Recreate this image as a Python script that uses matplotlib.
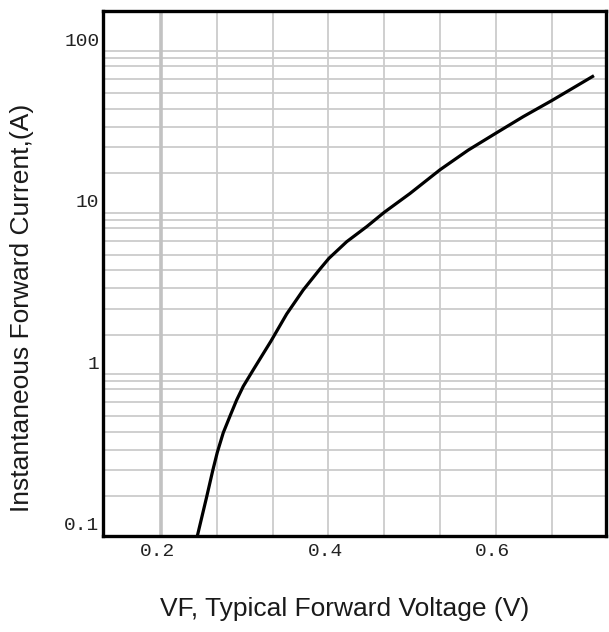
import numpy as np
import matplotlib
matplotlib.use("Agg")
import matplotlib.pyplot as plt
from matplotlib.transforms import ScaledTranslation

# ---- data ----
vf = [0.2434, 0.2546, 0.2618, 0.2673, 0.2744, 0.2824, 0.2904, 0.2983,
      0.3103, 0.3314, 0.3502, 0.3700, 0.3900, 0.4007, 0.4219, 0.4458,
      0.4668, 0.4975, 0.5333, 0.5671, 0.6002, 0.6329, 0.6668, 0.7173]
i_f = [0.100, 0.175, 0.254, 0.330, 0.436, 0.552, 0.695, 0.845,
       1.07, 1.61, 2.37, 3.34, 4.50, 5.24, 6.64, 8.23,
       10.1, 13.2, 18.5, 24.5, 31.2, 39.5, 49.6, 70.8]

x_tick_values = [0.2, 0.4, 0.6]
x_tick_labels = ["0.2", "0.4", "0.6"]
x_grid_values = [0.2, 0.2667, 0.3333, 0.4, 0.4667, 0.5333, 0.6, 0.6667]
y_tick_values = [0.1, 1, 10, 100]
y_tick_labels = ["0.1", "1", "10", "100"]
y_decades = [1, 10, 100]
y_grid_factors = [0.909, 0.8074, 0.6709, 0.5509, 0.4416, 0.3424, 0.2551, 0.1759]

x_label = "VF, Typical Forward Voltage (V)"
y_label = "Instantaneous Forward Current,(A)"

W, H = 609, 632
fig = plt.figure(figsize=(W / 100, H / 100), dpi=100)
ax = fig.add_axes([103 / W, 1 - 536 / H, 503 / W, 525 / H])
ax.set_yscale("log")
ax.set_xlim(0.1307, 0.7317)
ax.set_ylim(0.1, 178)

grid_c = "#cccccc"
for d in y_decades:
    ax.axhline(d, color=grid_c, lw=1.3, zorder=1)
    for f in y_grid_factors:
        ax.axhline(d * f, color=grid_c, lw=1.3, zorder=1)
for xv in x_grid_values:
    if abs(xv - 0.2) < 1e-6:
        ax.axvline(xv, color="#c2c2c2", lw=2.6, zorder=1)
    else:
        ax.axvline(xv, color=grid_c, lw=1.3, zorder=1)

ax.plot(vf, i_f, color="black", lw=2.3, zorder=3, solid_capstyle="butt",
        solid_joinstyle="round")

for s in ax.spines.values():
    s.set_linewidth(2.4)
    s.set_color("black")
    s.set_zorder(4)

ax.set_xticks(x_tick_values)
ax.set_xticklabels(x_tick_labels)
ax.set_yticks(y_tick_values)
ax.set_yticklabels(y_tick_labels)
ax.minorticks_off()
ax.tick_params(axis="both", length=0, labelsize=14, labelcolor="#222222")
ax.tick_params(axis="y", pad=2.5)
ax.tick_params(axis="x", pad=5)
for lab in ax.get_xticklabels() + ax.get_yticklabels():
    lab.set_family("Liberation Mono")
for lab in ax.get_yticklabels():
    lab.set_transform(lab.get_transform() + ScaledTranslation(0, 12 / 100, fig.dpi_scale_trans))
for lab in ax.get_xticklabels():
    lab.set_transform(lab.get_transform() + ScaledTranslation(-3 / 100, 0, fig.dpi_scale_trans))

fig.text(345 / W, 1 - 609 / H, x_label, ha="center", va="center",
         fontsize=19, family="Liberation Sans", color="#1a1a1a")
fig.text(22 / W, 1 - 308 / H, y_label, ha="center", va="center", rotation=90,
         fontsize=19, family="Liberation Sans", color="#1a1a1a")

fig.savefig("out.png", dpi=100, facecolor="white")
